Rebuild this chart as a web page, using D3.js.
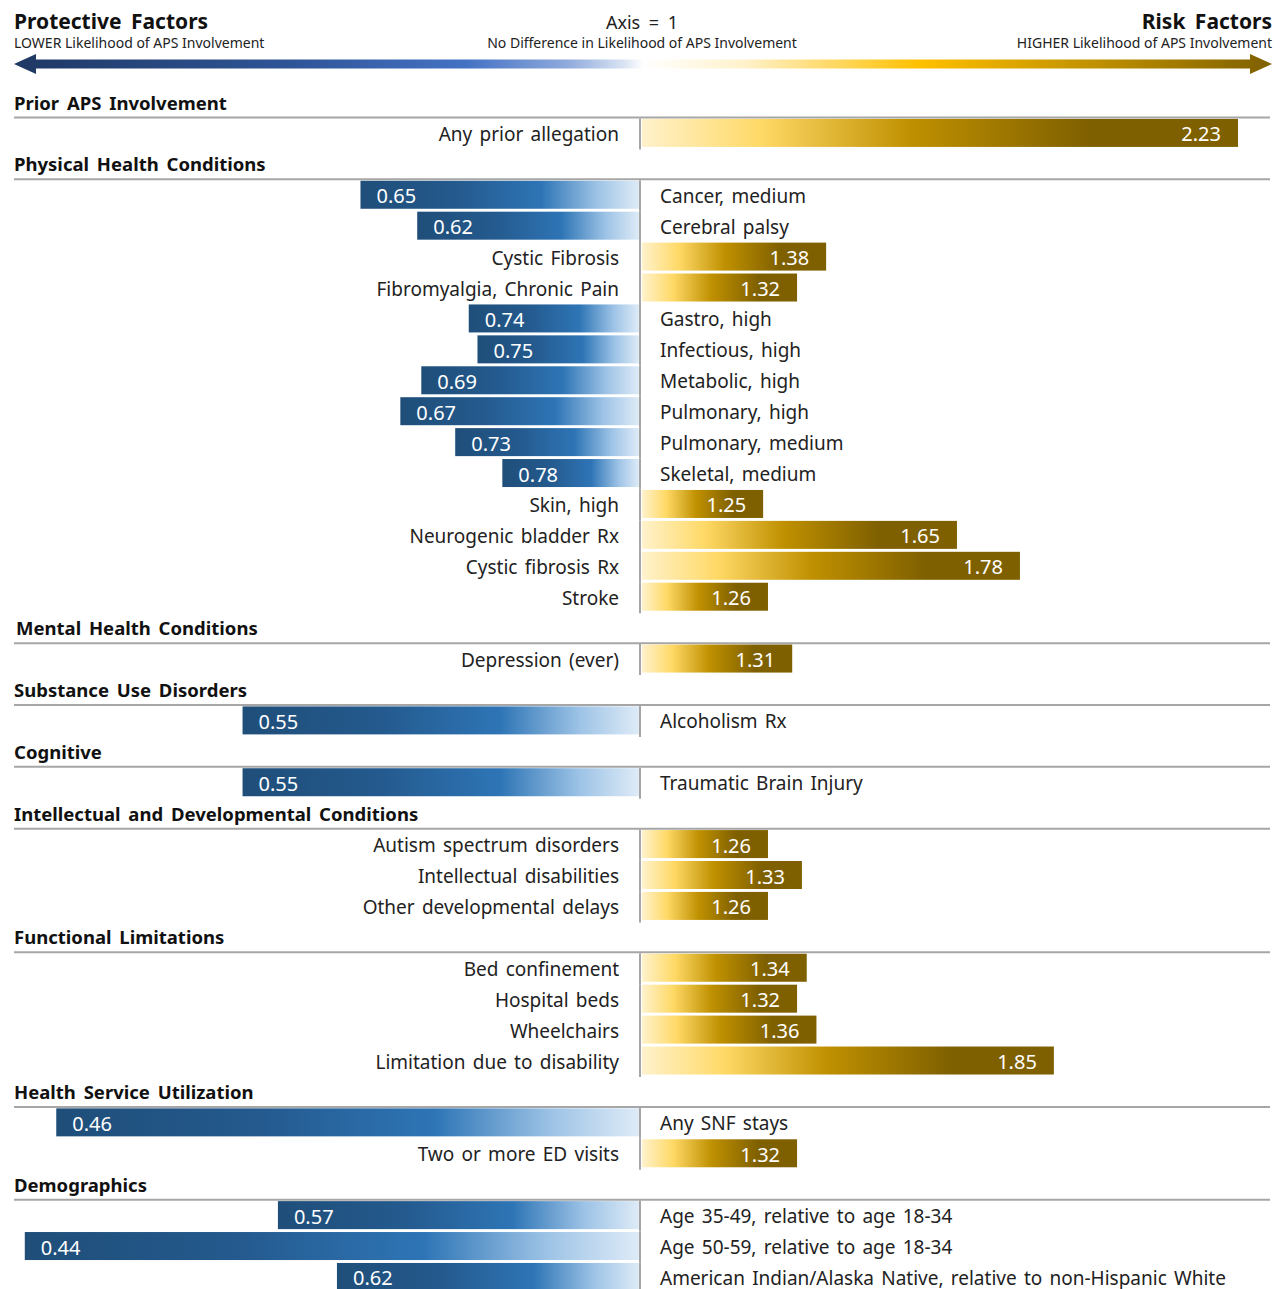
<!DOCTYPE html>
<html><head><meta charset="utf-8">
<script src="https://cdn.jsdelivr.net/npm/d3@7"></script>
<style>
body{margin:0;background:#fff;}
text{font-family:"Noto Sans","Open Sans",sans-serif;}
</style></head>
<body><svg id="chart" width="1282" height="1289"></svg>
<script>
const groups = ["Prior APS Involvement","Physical Health Conditions","Mental Health Conditions","Substance Use Disorders","Cognitive","Intellectual and Developmental Conditions","Functional Limitations","Health Service Utilization","Demographics"];
const factors = ["Any prior allegation",
 "Cancer, medium","Cerebral palsy","Cystic Fibrosis","Fibromyalgia, Chronic Pain","Gastro, high","Infectious, high","Metabolic, high","Pulmonary, high","Pulmonary, medium","Skeletal, medium","Skin, high","Neurogenic bladder Rx","Cystic fibrosis Rx","Stroke",
 "Depression (ever)",
 "Alcoholism Rx",
 "Traumatic Brain Injury",
 "Autism spectrum disorders","Intellectual disabilities","Other developmental delays",
 "Bed confinement","Hospital beds","Wheelchairs","Limitation due to disability",
 "Any SNF stays","Two or more ED visits",
 "Age 35-49, relative to age 18-34","Age 50-59, relative to age 18-34","American Indian/Alaska Native, relative to non-Hispanic White"];
const factorGroup = [0, 1,1,1,1,1,1,1,1,1,1,1,1,1,1, 2, 3, 4, 5,5,5, 6,6,6,6, 7,7, 8,8,8];
const oddsRatios = [2.23, 0.65,0.62,1.38,1.32,0.74,0.75,0.69,0.67,0.73,0.78,1.25,1.65,1.78,1.26, 1.31, 0.55, 0.55, 1.26,1.33,1.26, 1.34,1.32,1.36,1.85, 0.46,1.32, 0.57,0.44,0.62];
// bar lengths as drawn in the reference (a few differ slightly from the printed labels)
const barRatios = [2.23, 0.635,0.686,1.38,1.32,0.74,0.75,0.69,0.67,0.725,0.78,1.25,1.65,1.78,1.26, 1.31, 0.55, 0.55, 1.26,1.33,1.26, 1.34,1.32,1.36,1.85, 0.454,1.32, 0.573,0.441,0.616];

const svg = d3.select("#chart");
const AX = 640, step = 30.92, y0 = 103;
// scale on "times more/less likely": ratio r>=1 -> r-1, r<1 -> 1/r - 1
const mag = d3.scaleLinear().domain([0, 1.23]).range([0, 596]);
const effect = r => r >= 1 ? r - 1 : 1 / r - 1;

const defs = svg.append("defs");
const lg = defs.append("linearGradient").attr("id","gLeft");
[["0%","#1f4e79"],["35%","#245a8e"],["65%","#2e75b6"],["85%","#9dc3e6"],["100%","#deebf7"]].forEach(s=>lg.append("stop").attr("offset",s[0]).attr("stop-color",s[1]));
const rg = defs.append("linearGradient").attr("id","gRight");
[["0%","#fff2cc"],["20%","#ffd966"],["45%","#bf9000"],["75%","#7f6000"],["100%","#7f6000"]].forEach(s=>rg.append("stop").attr("offset",s[0]).attr("stop-color",s[1]));
const ag = defs.append("linearGradient").attr("id","gArrow");
[["0%","#1f3864"],["22%","#2f5597"],["36%","#4472c4"],["44%","#8faadc"],["48.5%","#dae3f3"],["50%","#ffffff"],["58%","#fff2cc"],["72%","#ffc000"],["86%","#bf9000"],["100%","#7f6000"]].forEach(s=>ag.append("stop").attr("offset",s[0]).attr("stop-color",s[1]));

// header
svg.append("text").attr("x",14).attr("y",29).attr("font-size",21).attr("font-weight","bold").attr("fill","#111").attr("word-spacing",4).text("Protective Factors");
svg.append("text").attr("x",14).attr("y",48).attr("font-size",14).attr("fill","#222").text("LOWER Likelihood of APS Involvement");
svg.append("text").attr("x",642).attr("y",29).attr("font-size",18).attr("text-anchor","middle").attr("fill","#222").attr("word-spacing",4).text("Axis = 1");
svg.append("text").attr("x",642).attr("y",48).attr("font-size",14).attr("text-anchor","middle").attr("fill","#222").text("No Difference in Likelihood of APS Involvement");
svg.append("text").attr("x",1272).attr("y",29).attr("font-size",21).attr("font-weight","bold").attr("text-anchor","end").attr("fill","#111").attr("word-spacing",4).text("Risk Factors");
svg.append("text").attr("x",1272).attr("y",48).attr("font-size",14).attr("text-anchor","end").attr("fill","#222").text("HIGHER Likelihood of APS Involvement");
svg.append("path").attr("fill","url(#gArrow)")
  .attr("d","M14,64 L36,54 L36,59.5 L1250,59.5 L1250,54 L1272,64 L1250,74 L1250,68.5 L36,68.5 L36,74 Z");

// build line layout
const lines = [];
let prev = -1;
factors.forEach((f,i)=>{
  if(factorGroup[i]!==prev){ lines.push({type:"h", g:factorGroup[i]}); prev=factorGroup[i]; }
  lines.push({type:"r", i});
});
lines.forEach((l,k)=>{ l.y = y0 + k*step; });

const heads = lines.filter(l=>l.type==="h");
svg.selectAll(".gh").data(heads).join("text").attr("class","gh")
  .attr("x",d=>d.g===2?16:14).attr("y",d=>d.y+6.5).attr("font-size",18.5).attr("font-weight","bold").attr("fill","#111")
  .attr("word-spacing",3)
  .text(d=>groups[d.g]);
svg.selectAll(".sep").data(heads).join("line").attr("class","sep")
  .attr("x1",14).attr("x2",1270).attr("y1",d=>d.y+14.5).attr("y2",d=>d.y+14.5)
  .attr("stroke","#a6a6a6").attr("stroke-width",2);

const rows = lines.filter(l=>l.type==="r");
const rg2 = svg.selectAll(".row").data(rows).join("g").attr("class","row");
rg2.append("line").attr("x1",AX).attr("x2",AX).attr("y1",d=>d.y-15.5).attr("y2",d=>d.y+15.5).attr("stroke","#a6a6a6").attr("stroke-width",2);
rg2.append("rect")
  .attr("x",d=>{const r=barRatios[d.i]; return r>=1? AX+2 : AX-1-mag(effect(r));})
  .attr("width",d=>mag(effect(barRatios[d.i])))
  .attr("y",d=>d.y-15).attr("height",28)
  .attr("fill",d=>barRatios[d.i]>=1?"url(#gRight)":"url(#gLeft)");
rg2.append("text")
  .attr("x",d=>{const r=barRatios[d.i]; return r>=1? AX+2+mag(effect(r))-17 : AX-1-mag(effect(r))+16;})
  .attr("text-anchor",d=>barRatios[d.i]>=1?"end":"start")
  .attr("y",d=>d.y+7.5).attr("font-size",20).attr("fill","#fff")
  .text(d=>oddsRatios[d.i].toFixed(2));
rg2.append("text")
  .attr("x",d=>barRatios[d.i]>=1? 619 : 660)
  .attr("text-anchor",d=>barRatios[d.i]>=1?"end":"start")
  .attr("y",d=>d.y+7).attr("font-size",19).attr("fill","#222")
  .attr("word-spacing",2.3)
  .text(d=>factors[d.i]);
</script></body></html>
